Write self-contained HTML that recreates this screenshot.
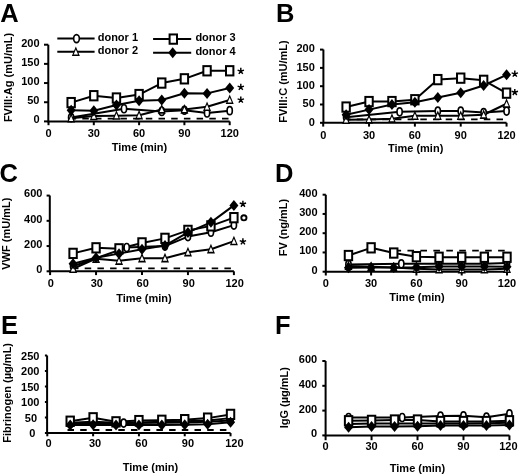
<!DOCTYPE html>
<html><head><meta charset="utf-8"><style>
html,body{margin:0;padding:0;background:#fff;}
body{width:520px;height:476px;overflow:hidden;}
svg{display:block;filter:grayscale(1);}
text{font-family:"Liberation Sans", sans-serif;fill:#000;}
</style></head><body>
<svg width="520" height="476" viewBox="0 0 520 476">
<rect width="520" height="476" fill="#fff"/>
<text x="0.3" y="21.5" font-size="25.5" font-weight="bold">A</text>
<path d="M48.30,44.70 V121.40 H229.70" fill="none" stroke="#000" stroke-width="2.0"/>
<path d="M44.00,121.40 H48.3" stroke="#000" stroke-width="2.0"/>
<text x="39.50" y="123.40" font-size="11" font-weight="bold" text-anchor="end">0</text>
<path d="M44.00,102.23 H48.3" stroke="#000" stroke-width="2.0"/>
<text x="39.50" y="104.23" font-size="11" font-weight="bold" text-anchor="end">50</text>
<path d="M44.00,83.05 H48.3" stroke="#000" stroke-width="2.0"/>
<text x="39.50" y="85.05" font-size="11" font-weight="bold" text-anchor="end">100</text>
<path d="M44.00,63.88 H48.3" stroke="#000" stroke-width="2.0"/>
<text x="39.50" y="65.88" font-size="11" font-weight="bold" text-anchor="end">150</text>
<path d="M44.00,44.70 H48.3" stroke="#000" stroke-width="2.0"/>
<text x="39.50" y="46.70" font-size="11" font-weight="bold" text-anchor="end">200</text>
<path d="M48.50,121.40 V125.20" stroke="#000" stroke-width="2.0"/>
<text x="48.50" y="137.20" font-size="11" font-weight="bold" text-anchor="middle">0</text>
<path d="M93.80,121.40 V125.20" stroke="#000" stroke-width="2.0"/>
<text x="93.80" y="137.20" font-size="11" font-weight="bold" text-anchor="middle">30</text>
<path d="M139.10,121.40 V125.20" stroke="#000" stroke-width="2.0"/>
<text x="139.10" y="137.20" font-size="11" font-weight="bold" text-anchor="middle">60</text>
<path d="M184.40,121.40 V125.20" stroke="#000" stroke-width="2.0"/>
<text x="184.40" y="137.20" font-size="11" font-weight="bold" text-anchor="middle">90</text>
<path d="M229.70,121.40 V125.20" stroke="#000" stroke-width="2.0"/>
<text x="229.70" y="137.20" font-size="11" font-weight="bold" text-anchor="middle">120</text>
<text x="139.5" y="150.8" font-size="11" font-weight="bold" text-anchor="middle">Time (min)</text>
<text transform="translate(12.3,77.5) rotate(-90)" font-size="11" font-weight="bold" text-anchor="middle">FVIII:Ag (mU/mL)</text>
<path d="M69.6,118.7 H228.5" stroke="#000" stroke-width="1.8" stroke-dasharray="6.5 6.2"/>
<polyline points="71.15,117.57 124.00,108.74 161.75,111.43 184.40,110.28 207.05,112.96 229.70,110.66" fill="none" stroke="#000" stroke-width="2.0" stroke-linejoin="round"/>
<polyline points="71.15,118.33 93.80,116.03 116.45,115.65 139.10,115.26 161.75,109.51 184.40,109.51 207.05,106.83 229.70,99.92" fill="none" stroke="#000" stroke-width="2.0" stroke-linejoin="round"/>
<polyline points="71.15,102.61 93.80,95.71 116.45,98.01 139.10,94.56 161.75,83.05 184.40,78.83 207.05,70.78 229.70,70.78" fill="none" stroke="#000" stroke-width="2.0" stroke-linejoin="round"/>
<polyline points="71.15,110.28 93.80,110.66 116.45,104.91 139.10,100.69 161.75,99.92 184.40,93.21 207.05,93.40 229.70,88.04" fill="none" stroke="#000" stroke-width="2.0" stroke-linejoin="round"/>
<ellipse cx="71.15" cy="117.57" rx="2.6" ry="4.0" fill="#fff" stroke="#000" stroke-width="1.65"/>
<ellipse cx="124.00" cy="108.74" rx="2.6" ry="4.0" fill="#fff" stroke="#000" stroke-width="1.65"/>
<ellipse cx="161.75" cy="111.43" rx="2.6" ry="4.0" fill="#fff" stroke="#000" stroke-width="1.65"/>
<ellipse cx="184.40" cy="110.28" rx="2.6" ry="4.0" fill="#fff" stroke="#000" stroke-width="1.65"/>
<ellipse cx="207.05" cy="112.96" rx="2.6" ry="4.0" fill="#fff" stroke="#000" stroke-width="1.65"/>
<ellipse cx="229.70" cy="110.66" rx="2.6" ry="4.0" fill="#fff" stroke="#000" stroke-width="1.65"/>
<polygon points="71.15,112.93 75.15,122.53 67.15,122.53" fill="#000"/><polygon points="71.15,116.03 73.35,120.93 68.95,120.93" fill="#fff"/>
<polygon points="93.80,110.63 97.80,120.23 89.80,120.23" fill="#000"/><polygon points="93.80,113.73 96.00,118.63 91.60,118.63" fill="#fff"/>
<polygon points="116.45,110.25 120.45,119.85 112.45,119.85" fill="#000"/><polygon points="116.45,113.35 118.65,118.25 114.25,118.25" fill="#fff"/>
<polygon points="139.10,109.86 143.10,119.46 135.10,119.46" fill="#000"/><polygon points="139.10,112.96 141.30,117.86 136.90,117.86" fill="#fff"/>
<polygon points="161.75,104.11 165.75,113.71 157.75,113.71" fill="#000"/><polygon points="161.75,107.21 163.95,112.11 159.55,112.11" fill="#fff"/>
<polygon points="184.40,104.11 188.40,113.71 180.40,113.71" fill="#000"/><polygon points="184.40,107.21 186.60,112.11 182.20,112.11" fill="#fff"/>
<polygon points="207.05,101.43 211.05,111.03 203.05,111.03" fill="#000"/><polygon points="207.05,104.53 209.25,109.43 204.85,109.43" fill="#fff"/>
<polygon points="229.70,94.52 233.70,104.12 225.70,104.12" fill="#000"/><polygon points="229.70,97.62 231.90,102.52 227.50,102.52" fill="#fff"/>
<rect x="67.45" y="97.96" width="7.4" height="9.3" fill="#fff" stroke="#000" stroke-width="2"/>
<rect x="90.10" y="91.06" width="7.4" height="9.3" fill="#fff" stroke="#000" stroke-width="2"/>
<rect x="112.75" y="93.36" width="7.4" height="9.3" fill="#fff" stroke="#000" stroke-width="2"/>
<rect x="135.40" y="89.91" width="7.4" height="9.3" fill="#fff" stroke="#000" stroke-width="2"/>
<rect x="158.05" y="78.40" width="7.4" height="9.3" fill="#fff" stroke="#000" stroke-width="2"/>
<rect x="180.70" y="74.18" width="7.4" height="9.3" fill="#fff" stroke="#000" stroke-width="2"/>
<rect x="203.35" y="66.13" width="7.4" height="9.3" fill="#fff" stroke="#000" stroke-width="2"/>
<rect x="226.00" y="66.13" width="7.4" height="9.3" fill="#fff" stroke="#000" stroke-width="2"/>
<polygon points="71.15,104.78 75.65,110.28 71.15,115.78 66.65,110.28" fill="#000"/>
<polygon points="93.80,105.16 98.30,110.66 93.80,116.16 89.30,110.66" fill="#000"/>
<polygon points="116.45,99.41 120.95,104.91 116.45,110.41 111.95,104.91" fill="#000"/>
<polygon points="139.10,95.19 143.60,100.69 139.10,106.19 134.60,100.69" fill="#000"/>
<polygon points="161.75,94.42 166.25,99.92 161.75,105.42 157.25,99.92" fill="#000"/>
<polygon points="184.40,87.71 188.90,93.21 184.40,98.71 179.90,93.21" fill="#000"/>
<polygon points="207.05,87.90 211.55,93.40 207.05,98.90 202.55,93.40" fill="#000"/>
<polygon points="229.70,82.54 234.20,88.04 229.70,93.54 225.20,88.04" fill="#000"/>
<path d="M240.80,71.20 L240.80,67.85 M240.80,71.20 L243.99,70.16 M240.80,71.20 L242.77,73.91 M240.80,71.20 L238.83,73.91 M240.80,71.20 L237.61,70.16 " stroke="#000" stroke-width="1.45"/>
<path d="M240.80,87.20 L240.80,83.85 M240.80,87.20 L243.99,86.16 M240.80,87.20 L242.77,89.91 M240.80,87.20 L238.83,89.91 M240.80,87.20 L237.61,86.16 " stroke="#000" stroke-width="1.45"/>
<path d="M240.80,99.90 L240.80,96.55 M240.80,99.90 L243.99,98.86 M240.80,99.90 L242.77,102.61 M240.80,99.90 L238.83,102.61 M240.80,99.90 L237.61,98.86 " stroke="#000" stroke-width="1.45"/>
<text x="276" y="21.5" font-size="25.5" font-weight="bold">B</text>
<path d="M323.40,49.60 V122.80 H506.56" fill="none" stroke="#000" stroke-width="2.0"/>
<path d="M320.00,122.80 H323.4" stroke="#000" stroke-width="2.0"/>
<text x="314.80" y="125.60" font-size="11" font-weight="bold" text-anchor="end">0</text>
<path d="M320.00,104.50 H323.4" stroke="#000" stroke-width="2.0"/>
<text x="314.80" y="107.30" font-size="11" font-weight="bold" text-anchor="end">50</text>
<path d="M320.00,86.20 H323.4" stroke="#000" stroke-width="2.0"/>
<text x="314.80" y="89.00" font-size="11" font-weight="bold" text-anchor="end">100</text>
<path d="M320.00,67.90 H323.4" stroke="#000" stroke-width="2.0"/>
<text x="314.80" y="70.70" font-size="11" font-weight="bold" text-anchor="end">150</text>
<path d="M320.00,49.60 H323.4" stroke="#000" stroke-width="2.0"/>
<text x="314.80" y="52.40" font-size="11" font-weight="bold" text-anchor="end">200</text>
<path d="M323.20,122.80 V126.60" stroke="#000" stroke-width="2.0"/>
<text x="323.20" y="139.10" font-size="11" font-weight="bold" text-anchor="middle">0</text>
<path d="M369.04,122.80 V126.60" stroke="#000" stroke-width="2.0"/>
<text x="369.04" y="139.10" font-size="11" font-weight="bold" text-anchor="middle">30</text>
<path d="M414.88,122.80 V126.60" stroke="#000" stroke-width="2.0"/>
<text x="414.88" y="139.10" font-size="11" font-weight="bold" text-anchor="middle">60</text>
<path d="M460.72,122.80 V126.60" stroke="#000" stroke-width="2.0"/>
<text x="460.72" y="139.10" font-size="11" font-weight="bold" text-anchor="middle">90</text>
<path d="M506.56,122.80 V126.60" stroke="#000" stroke-width="2.0"/>
<text x="506.56" y="139.10" font-size="11" font-weight="bold" text-anchor="middle">120</text>
<text x="415.6" y="151.5" font-size="11" font-weight="bold" text-anchor="middle">Time (min)</text>
<text transform="translate(287.3,81.5) rotate(-90)" font-size="11" font-weight="bold" text-anchor="middle">FVIII:C (mU/mL)</text>
<path d="M344.1,119.4 H503" stroke="#000" stroke-width="1.8" stroke-dasharray="6.5 6.2"/>
<polyline points="346.12,117.31 399.60,111.82 437.80,111.09 460.72,111.09 483.64,112.55 506.56,111.09" fill="none" stroke="#000" stroke-width="2.0" stroke-linejoin="round"/>
<polyline points="346.12,119.87 369.04,119.51 391.96,118.77 414.88,115.85 437.80,115.85 460.72,115.85 483.64,114.75 506.56,103.77" fill="none" stroke="#000" stroke-width="2.0" stroke-linejoin="round"/>
<polyline points="346.12,107.06 369.04,101.57 391.96,101.57 414.88,99.74 437.80,79.61 460.72,78.15 483.64,80.34 506.56,93.15" fill="none" stroke="#000" stroke-width="2.0" stroke-linejoin="round"/>
<polyline points="346.12,114.75 369.04,109.62 391.96,104.50 414.88,102.30 437.80,97.55 460.72,92.79 483.64,85.47 506.56,74.85" fill="none" stroke="#000" stroke-width="2.0" stroke-linejoin="round"/>
<ellipse cx="346.12" cy="117.31" rx="2.6" ry="4.0" fill="#fff" stroke="#000" stroke-width="1.65"/>
<ellipse cx="399.60" cy="111.82" rx="2.6" ry="4.0" fill="#fff" stroke="#000" stroke-width="1.65"/>
<ellipse cx="437.80" cy="111.09" rx="2.6" ry="4.0" fill="#fff" stroke="#000" stroke-width="1.65"/>
<ellipse cx="460.72" cy="111.09" rx="2.6" ry="4.0" fill="#fff" stroke="#000" stroke-width="1.65"/>
<ellipse cx="483.64" cy="112.55" rx="2.6" ry="4.0" fill="#fff" stroke="#000" stroke-width="1.65"/>
<ellipse cx="506.56" cy="111.09" rx="2.6" ry="4.0" fill="#fff" stroke="#000" stroke-width="1.65"/>
<polygon points="346.12,114.47 350.12,124.07 342.12,124.07" fill="#000"/><polygon points="346.12,117.57 348.32,122.47 343.92,122.47" fill="#fff"/>
<polygon points="369.04,114.11 373.04,123.71 365.04,123.71" fill="#000"/><polygon points="369.04,117.21 371.24,122.11 366.84,122.11" fill="#fff"/>
<polygon points="391.96,113.37 395.96,122.97 387.96,122.97" fill="#000"/><polygon points="391.96,116.47 394.16,121.37 389.76,121.37" fill="#fff"/>
<polygon points="414.88,110.45 418.88,120.05 410.88,120.05" fill="#000"/><polygon points="414.88,113.55 417.08,118.45 412.68,118.45" fill="#fff"/>
<polygon points="437.80,110.45 441.80,120.05 433.80,120.05" fill="#000"/><polygon points="437.80,113.55 440.00,118.45 435.60,118.45" fill="#fff"/>
<polygon points="460.72,110.45 464.72,120.05 456.72,120.05" fill="#000"/><polygon points="460.72,113.55 462.92,118.45 458.52,118.45" fill="#fff"/>
<polygon points="483.64,109.35 487.64,118.95 479.64,118.95" fill="#000"/><polygon points="483.64,112.45 485.84,117.35 481.44,117.35" fill="#fff"/>
<polygon points="506.56,98.37 510.56,107.97 502.56,107.97" fill="#000"/><polygon points="506.56,101.47 508.76,106.37 504.36,106.37" fill="#fff"/>
<rect x="342.42" y="102.41" width="7.4" height="9.3" fill="#fff" stroke="#000" stroke-width="2"/>
<rect x="365.34" y="96.92" width="7.4" height="9.3" fill="#fff" stroke="#000" stroke-width="2"/>
<rect x="388.26" y="96.92" width="7.4" height="9.3" fill="#fff" stroke="#000" stroke-width="2"/>
<rect x="411.18" y="95.09" width="7.4" height="9.3" fill="#fff" stroke="#000" stroke-width="2"/>
<rect x="434.10" y="74.96" width="7.4" height="9.3" fill="#fff" stroke="#000" stroke-width="2"/>
<rect x="457.02" y="73.50" width="7.4" height="9.3" fill="#fff" stroke="#000" stroke-width="2"/>
<rect x="479.94" y="75.69" width="7.4" height="9.3" fill="#fff" stroke="#000" stroke-width="2"/>
<rect x="502.86" y="88.50" width="7.4" height="9.3" fill="#fff" stroke="#000" stroke-width="2"/>
<polygon points="346.12,109.25 350.62,114.75 346.12,120.25 341.62,114.75" fill="#000"/>
<polygon points="369.04,104.12 373.54,109.62 369.04,115.12 364.54,109.62" fill="#000"/>
<polygon points="391.96,99.00 396.46,104.50 391.96,110.00 387.46,104.50" fill="#000"/>
<polygon points="414.88,96.80 419.38,102.30 414.88,107.80 410.38,102.30" fill="#000"/>
<polygon points="437.80,92.05 442.30,97.55 437.80,103.05 433.30,97.55" fill="#000"/>
<polygon points="460.72,87.29 465.22,92.79 460.72,98.29 456.22,92.79" fill="#000"/>
<polygon points="483.64,79.97 488.14,85.47 483.64,90.97 479.14,85.47" fill="#000"/>
<polygon points="506.56,69.35 511.06,74.85 506.56,80.35 502.06,74.85" fill="#000"/>
<path d="M514.80,73.90 L514.80,70.55 M514.80,73.90 L517.99,72.86 M514.80,73.90 L516.77,76.61 M514.80,73.90 L512.83,76.61 M514.80,73.90 L511.61,72.86 " stroke="#000" stroke-width="1.45"/>
<path d="M514.80,92.30 L514.80,88.95 M514.80,92.30 L517.99,91.26 M514.80,92.30 L516.77,95.01 M514.80,92.30 L512.83,95.01 M514.80,92.30 L511.61,91.26 " stroke="#000" stroke-width="1.45"/>
<text x="-0.6" y="181.7" font-size="25.5" font-weight="bold">C</text>
<path d="M49.80,195.58 V271.30 H233.90" fill="none" stroke="#000" stroke-width="2.0"/>
<path d="M46.60,271.30 H49.8" stroke="#000" stroke-width="2.0"/>
<text x="42.40" y="273.00" font-size="11" font-weight="bold" text-anchor="end">0</text>
<path d="M46.60,246.06 H49.8" stroke="#000" stroke-width="2.0"/>
<text x="42.40" y="247.76" font-size="11" font-weight="bold" text-anchor="end">200</text>
<path d="M46.60,220.82 H49.8" stroke="#000" stroke-width="2.0"/>
<text x="42.40" y="222.52" font-size="11" font-weight="bold" text-anchor="end">400</text>
<path d="M46.60,195.58 H49.8" stroke="#000" stroke-width="2.0"/>
<text x="42.40" y="197.28" font-size="11" font-weight="bold" text-anchor="end">600</text>
<path d="M50.10,271.30 V275.10" stroke="#000" stroke-width="2.0"/>
<text x="50.80" y="286.80" font-size="11" font-weight="bold" text-anchor="middle">0</text>
<path d="M96.05,271.30 V275.10" stroke="#000" stroke-width="2.0"/>
<text x="96.75" y="286.80" font-size="11" font-weight="bold" text-anchor="middle">30</text>
<path d="M142.00,271.30 V275.10" stroke="#000" stroke-width="2.0"/>
<text x="142.70" y="286.80" font-size="11" font-weight="bold" text-anchor="middle">60</text>
<path d="M187.95,271.30 V275.10" stroke="#000" stroke-width="2.0"/>
<text x="188.65" y="286.80" font-size="11" font-weight="bold" text-anchor="middle">90</text>
<path d="M233.90,271.30 V275.10" stroke="#000" stroke-width="2.0"/>
<text x="234.60" y="286.80" font-size="11" font-weight="bold" text-anchor="middle">120</text>
<text x="144" y="302.3" font-size="11" font-weight="bold" text-anchor="middle">Time (min)</text>
<text transform="translate(10.3,233.6) rotate(-90)" font-size="11" font-weight="bold" text-anchor="middle">VWF (mU/mL)</text>
<path d="M72,268.3 H231.5" stroke="#000" stroke-width="1.8" stroke-dasharray="6.5 6.2"/>
<polyline points="73.08,266.25 126.69,247.45 164.98,246.06 187.95,236.60 210.93,232.18 233.90,225.11" fill="none" stroke="#000" stroke-width="2.0" stroke-linejoin="round"/>
<polyline points="73.08,268.78 96.05,258.68 119.03,260.70 142.00,258.18 164.98,258.18 187.95,252.24 210.93,249.22 233.90,241.14" fill="none" stroke="#000" stroke-width="2.0" stroke-linejoin="round"/>
<polyline points="73.08,253.38 96.05,247.83 119.03,248.84 142.00,242.91 164.98,238.36 187.95,230.41 210.93,225.87 233.90,217.67" fill="none" stroke="#000" stroke-width="2.0" stroke-linejoin="round"/>
<polyline points="73.08,263.73 96.05,257.80 119.03,253.63 142.00,249.22 164.98,245.56 187.95,232.43 210.93,222.33 233.90,205.42" fill="none" stroke="#000" stroke-width="2.0" stroke-linejoin="round"/>
<ellipse cx="73.08" cy="266.25" rx="2.6" ry="4.0" fill="#fff" stroke="#000" stroke-width="1.65"/>
<ellipse cx="126.69" cy="247.45" rx="2.6" ry="4.0" fill="#fff" stroke="#000" stroke-width="1.65"/>
<ellipse cx="164.98" cy="246.06" rx="2.6" ry="4.0" fill="#fff" stroke="#000" stroke-width="1.65"/>
<ellipse cx="187.95" cy="236.60" rx="2.6" ry="4.0" fill="#fff" stroke="#000" stroke-width="1.65"/>
<ellipse cx="210.93" cy="232.18" rx="2.6" ry="4.0" fill="#fff" stroke="#000" stroke-width="1.65"/>
<ellipse cx="233.90" cy="225.11" rx="2.6" ry="4.0" fill="#fff" stroke="#000" stroke-width="1.65"/>
<polygon points="73.08,263.38 77.08,272.98 69.08,272.98" fill="#000"/><polygon points="73.08,266.48 75.28,271.38 70.88,271.38" fill="#fff"/>
<polygon points="96.05,253.28 100.05,262.88 92.05,262.88" fill="#000"/><polygon points="96.05,256.38 98.25,261.28 93.85,261.28" fill="#fff"/>
<polygon points="119.03,255.30 123.03,264.90 115.03,264.90" fill="#000"/><polygon points="119.03,258.40 121.23,263.30 116.83,263.30" fill="#fff"/>
<polygon points="142.00,252.78 146.00,262.38 138.00,262.38" fill="#000"/><polygon points="142.00,255.88 144.20,260.78 139.80,260.78" fill="#fff"/>
<polygon points="164.98,252.78 168.98,262.38 160.98,262.38" fill="#000"/><polygon points="164.98,255.88 167.18,260.78 162.78,260.78" fill="#fff"/>
<polygon points="187.95,246.84 191.95,256.44 183.95,256.44" fill="#000"/><polygon points="187.95,249.94 190.15,254.84 185.75,254.84" fill="#fff"/>
<polygon points="210.93,243.81 214.93,253.41 206.93,253.41" fill="#000"/><polygon points="210.93,246.91 213.13,251.81 208.73,251.81" fill="#fff"/>
<polygon points="233.90,235.74 237.90,245.34 229.90,245.34" fill="#000"/><polygon points="233.90,238.84 236.10,243.74 231.70,243.74" fill="#fff"/>
<rect x="69.38" y="248.73" width="7.4" height="9.3" fill="#fff" stroke="#000" stroke-width="2"/>
<rect x="92.35" y="243.18" width="7.4" height="9.3" fill="#fff" stroke="#000" stroke-width="2"/>
<rect x="115.33" y="244.19" width="7.4" height="9.3" fill="#fff" stroke="#000" stroke-width="2"/>
<rect x="138.30" y="238.25" width="7.4" height="9.3" fill="#fff" stroke="#000" stroke-width="2"/>
<rect x="161.28" y="233.71" width="7.4" height="9.3" fill="#fff" stroke="#000" stroke-width="2"/>
<rect x="184.25" y="225.76" width="7.4" height="9.3" fill="#fff" stroke="#000" stroke-width="2"/>
<rect x="207.23" y="221.22" width="7.4" height="9.3" fill="#fff" stroke="#000" stroke-width="2"/>
<rect x="230.20" y="213.02" width="7.4" height="9.3" fill="#fff" stroke="#000" stroke-width="2"/>
<polygon points="73.08,258.23 77.58,263.73 73.08,269.23 68.58,263.73" fill="#000"/>
<polygon points="96.05,252.30 100.55,257.80 96.05,263.30 91.55,257.80" fill="#000"/>
<polygon points="119.03,248.13 123.53,253.63 119.03,259.13 114.53,253.63" fill="#000"/>
<polygon points="142.00,243.72 146.50,249.22 142.00,254.72 137.50,249.22" fill="#000"/>
<polygon points="164.98,240.06 169.48,245.56 164.98,251.06 160.48,245.56" fill="#000"/>
<polygon points="187.95,226.93 192.45,232.43 187.95,237.93 183.45,232.43" fill="#000"/>
<polygon points="210.93,216.83 215.43,222.33 210.93,227.83 206.43,222.33" fill="#000"/>
<polygon points="233.90,199.92 238.40,205.42 233.90,210.92 229.40,205.42" fill="#000"/>
<path d="M242.90,204.00 L242.90,200.65 M242.90,204.00 L246.09,202.96 M242.90,204.00 L244.87,206.71 M242.90,204.00 L240.93,206.71 M242.90,204.00 L239.71,202.96 " stroke="#000" stroke-width="1.45"/>
<ellipse cx="243.90" cy="217.80" rx="2.6" ry="2.6" fill="none" stroke="#000" stroke-width="1.9"/>
<path d="M242.90,241.70 L242.90,238.35 M242.90,241.70 L246.09,240.66 M242.90,241.70 L244.87,244.41 M242.90,241.70 L240.93,244.41 M242.90,241.70 L239.71,240.66 " stroke="#000" stroke-width="1.45"/>
<text x="275" y="181.8" font-size="25.5" font-weight="bold">D</text>
<path d="M325.80,194.70 V271.70 H507.00" fill="none" stroke="#000" stroke-width="2.0"/>
<path d="M322.60,271.70 H325.8" stroke="#000" stroke-width="2.0"/>
<text x="317.50" y="273.60" font-size="11" font-weight="bold" text-anchor="end">0</text>
<path d="M322.60,252.45 H325.8" stroke="#000" stroke-width="2.0"/>
<text x="317.50" y="254.35" font-size="11" font-weight="bold" text-anchor="end">100</text>
<path d="M322.60,233.20 H325.8" stroke="#000" stroke-width="2.0"/>
<text x="317.50" y="235.10" font-size="11" font-weight="bold" text-anchor="end">200</text>
<path d="M322.60,213.95 H325.8" stroke="#000" stroke-width="2.0"/>
<text x="317.50" y="215.85" font-size="11" font-weight="bold" text-anchor="end">300</text>
<path d="M322.60,194.70 H325.8" stroke="#000" stroke-width="2.0"/>
<text x="317.50" y="196.60" font-size="11" font-weight="bold" text-anchor="end">400</text>
<path d="M325.80,271.70 V275.50" stroke="#000" stroke-width="2.0"/>
<text x="325.80" y="287.30" font-size="11" font-weight="bold" text-anchor="middle">0</text>
<path d="M371.10,271.70 V275.50" stroke="#000" stroke-width="2.0"/>
<text x="371.10" y="287.30" font-size="11" font-weight="bold" text-anchor="middle">30</text>
<path d="M416.40,271.70 V275.50" stroke="#000" stroke-width="2.0"/>
<text x="416.40" y="287.30" font-size="11" font-weight="bold" text-anchor="middle">60</text>
<path d="M461.70,271.70 V275.50" stroke="#000" stroke-width="2.0"/>
<text x="461.70" y="287.30" font-size="11" font-weight="bold" text-anchor="middle">90</text>
<path d="M507.00,271.70 V275.50" stroke="#000" stroke-width="2.0"/>
<text x="507.00" y="287.30" font-size="11" font-weight="bold" text-anchor="middle">120</text>
<text x="417" y="301.2" font-size="11" font-weight="bold" text-anchor="middle">Time (min)</text>
<text transform="translate(287.2,227.6) rotate(-90)" font-size="11" font-weight="bold" text-anchor="middle">FV (ng/mL)</text>
<path d="M394.5,250.7 H505.5" stroke="#000" stroke-width="1.8" stroke-dasharray="6.6 6.35"/>
<polyline points="348.45,264.38 401.30,263.81 439.05,263.81 461.70,263.81 484.35,263.81 507.00,263.04" fill="none" stroke="#000" stroke-width="2.0" stroke-linejoin="round"/>
<polyline points="348.45,265.93 371.10,266.69 393.75,267.46 416.40,268.81 439.05,269.39 461.70,269.39 484.35,269.39 507.00,268.81" fill="none" stroke="#000" stroke-width="2.0" stroke-linejoin="round"/>
<polyline points="348.45,255.53 371.10,247.83 393.75,253.03 416.40,256.69 439.05,257.26 461.70,257.26 484.35,257.26 507.00,257.26" fill="none" stroke="#000" stroke-width="2.0" stroke-linejoin="round"/>
<polyline points="348.45,267.85 371.10,267.46 393.75,267.46 416.40,267.27 439.05,266.50 461.70,266.50 484.35,266.50 507.00,266.69" fill="none" stroke="#000" stroke-width="2.0" stroke-linejoin="round"/>
<ellipse cx="348.45" cy="264.38" rx="2.6" ry="4.0" fill="#fff" stroke="#000" stroke-width="1.65"/>
<ellipse cx="401.30" cy="263.81" rx="2.6" ry="4.0" fill="#fff" stroke="#000" stroke-width="1.65"/>
<ellipse cx="439.05" cy="263.81" rx="2.6" ry="4.0" fill="#fff" stroke="#000" stroke-width="1.65"/>
<ellipse cx="461.70" cy="263.81" rx="2.6" ry="4.0" fill="#fff" stroke="#000" stroke-width="1.65"/>
<ellipse cx="484.35" cy="263.81" rx="2.6" ry="4.0" fill="#fff" stroke="#000" stroke-width="1.65"/>
<ellipse cx="507.00" cy="263.04" rx="2.6" ry="4.0" fill="#fff" stroke="#000" stroke-width="1.65"/>
<polygon points="348.45,260.53 352.45,270.12 344.45,270.12" fill="#000"/><polygon points="348.45,263.62 350.65,268.53 346.25,268.53" fill="#fff"/>
<polygon points="371.10,261.30 375.10,270.89 367.10,270.89" fill="#000"/><polygon points="371.10,264.39 373.30,269.30 368.90,269.30" fill="#fff"/>
<polygon points="393.75,262.06 397.75,271.66 389.75,271.66" fill="#000"/><polygon points="393.75,265.16 395.95,270.06 391.55,270.06" fill="#fff"/>
<polygon points="416.40,263.41 420.40,273.01 412.40,273.01" fill="#000"/><polygon points="416.40,266.51 418.60,271.41 414.20,271.41" fill="#fff"/>
<polygon points="439.05,263.99 443.05,273.59 435.05,273.59" fill="#000"/><polygon points="439.05,267.09 441.25,271.99 436.85,271.99" fill="#fff"/>
<polygon points="461.70,263.99 465.70,273.59 457.70,273.59" fill="#000"/><polygon points="461.70,267.09 463.90,271.99 459.50,271.99" fill="#fff"/>
<polygon points="484.35,263.99 488.35,273.59 480.35,273.59" fill="#000"/><polygon points="484.35,267.09 486.55,271.99 482.15,271.99" fill="#fff"/>
<polygon points="507.00,263.41 511.00,273.01 503.00,273.01" fill="#000"/><polygon points="507.00,266.51 509.20,271.41 504.80,271.41" fill="#fff"/>
<rect x="344.75" y="250.88" width="7.4" height="9.3" fill="#fff" stroke="#000" stroke-width="2"/>
<rect x="367.40" y="243.18" width="7.4" height="9.3" fill="#fff" stroke="#000" stroke-width="2"/>
<rect x="390.05" y="248.38" width="7.4" height="9.3" fill="#fff" stroke="#000" stroke-width="2"/>
<rect x="412.70" y="252.03" width="7.4" height="9.3" fill="#fff" stroke="#000" stroke-width="2"/>
<rect x="435.35" y="252.61" width="7.4" height="9.3" fill="#fff" stroke="#000" stroke-width="2"/>
<rect x="458.00" y="252.61" width="7.4" height="9.3" fill="#fff" stroke="#000" stroke-width="2"/>
<rect x="480.65" y="252.61" width="7.4" height="9.3" fill="#fff" stroke="#000" stroke-width="2"/>
<rect x="503.30" y="252.61" width="7.4" height="9.3" fill="#fff" stroke="#000" stroke-width="2"/>
<polygon points="348.45,262.35 352.95,267.85 348.45,273.35 343.95,267.85" fill="#000"/>
<polygon points="371.10,261.96 375.60,267.46 371.10,272.96 366.60,267.46" fill="#000"/>
<polygon points="393.75,261.96 398.25,267.46 393.75,272.96 389.25,267.46" fill="#000"/>
<polygon points="416.40,261.77 420.90,267.27 416.40,272.77 411.90,267.27" fill="#000"/>
<polygon points="439.05,261.00 443.55,266.50 439.05,272.00 434.55,266.50" fill="#000"/>
<polygon points="461.70,261.00 466.20,266.50 461.70,272.00 457.20,266.50" fill="#000"/>
<polygon points="484.35,261.00 488.85,266.50 484.35,272.00 479.85,266.50" fill="#000"/>
<polygon points="507.00,261.19 511.50,266.69 507.00,272.19 502.50,266.69" fill="#000"/>
<text x="1" y="334" font-size="25.5" font-weight="bold">E</text>
<path d="M47.10,355.50 V433.00 H230.54" fill="none" stroke="#000" stroke-width="2.0"/>
<path d="M44.90,433.00 H47.1" stroke="#000" stroke-width="2.0"/>
<text x="35.40" y="437.00" font-size="11" font-weight="bold" text-anchor="end">0</text>
<path d="M44.90,417.50 H47.1" stroke="#000" stroke-width="2.0"/>
<text x="37.10" y="421.50" font-size="11" font-weight="bold" text-anchor="end">50</text>
<path d="M44.90,402.00 H47.1" stroke="#000" stroke-width="2.0"/>
<text x="39.40" y="406.00" font-size="11" font-weight="bold" text-anchor="end">100</text>
<path d="M44.90,386.50 H47.1" stroke="#000" stroke-width="2.0"/>
<text x="39.40" y="390.50" font-size="11" font-weight="bold" text-anchor="end">150</text>
<path d="M44.90,371.00 H47.1" stroke="#000" stroke-width="2.0"/>
<text x="39.40" y="375.00" font-size="11" font-weight="bold" text-anchor="end">200</text>
<path d="M44.90,355.50 H47.1" stroke="#000" stroke-width="2.0"/>
<text x="39.40" y="359.50" font-size="11" font-weight="bold" text-anchor="end">250</text>
<path d="M47.30,433.00 V436.30" stroke="#000" stroke-width="2.0"/>
<text x="48.60" y="446.50" font-size="11" font-weight="bold" text-anchor="middle">0</text>
<path d="M93.11,433.00 V436.30" stroke="#000" stroke-width="2.0"/>
<text x="95.04" y="446.50" font-size="11" font-weight="bold" text-anchor="middle">30</text>
<path d="M138.92,433.00 V436.30" stroke="#000" stroke-width="2.0"/>
<text x="141.48" y="446.50" font-size="11" font-weight="bold" text-anchor="middle">60</text>
<path d="M184.73,433.00 V436.30" stroke="#000" stroke-width="2.0"/>
<text x="187.92" y="446.50" font-size="11" font-weight="bold" text-anchor="middle">90</text>
<path d="M230.54,433.00 V436.30" stroke="#000" stroke-width="2.0"/>
<text x="234.36" y="446.50" font-size="11" font-weight="bold" text-anchor="middle">120</text>
<text x="150.5" y="471.2" font-size="11" font-weight="bold" text-anchor="middle">Time (min)</text>
<text transform="translate(10.5,392.9) rotate(-90)" font-size="11" font-weight="bold" text-anchor="middle">Fibrinogen (µg/mL)</text>
<path d="M67.5,430 H229" stroke="#000" stroke-width="1.8" stroke-dasharray="6.5 6.2"/>
<polyline points="70.20,423.70 123.65,423.08 161.82,422.77 184.73,422.46 207.63,421.84 230.54,420.60" fill="none" stroke="#000" stroke-width="2.0" stroke-linejoin="round"/>
<polyline points="70.20,422.77 93.11,421.84 116.01,422.77 138.92,422.46 161.82,421.84 184.73,421.22 207.63,420.60 230.54,418.12" fill="none" stroke="#000" stroke-width="2.0" stroke-linejoin="round"/>
<polyline points="70.20,421.22 93.11,417.81 116.01,421.84 138.92,420.60 161.82,420.29 184.73,419.67 207.63,418.12 230.54,414.40" fill="none" stroke="#000" stroke-width="2.0" stroke-linejoin="round"/>
<polyline points="70.20,424.94 93.11,424.63 116.01,424.94 138.92,424.94 161.82,424.94 184.73,424.63 207.63,424.32 230.54,422.15" fill="none" stroke="#000" stroke-width="2.0" stroke-linejoin="round"/>
<ellipse cx="70.20" cy="423.70" rx="2.6" ry="4.0" fill="#fff" stroke="#000" stroke-width="1.65"/>
<ellipse cx="123.65" cy="423.08" rx="2.6" ry="4.0" fill="#fff" stroke="#000" stroke-width="1.65"/>
<ellipse cx="161.82" cy="422.77" rx="2.6" ry="4.0" fill="#fff" stroke="#000" stroke-width="1.65"/>
<ellipse cx="184.73" cy="422.46" rx="2.6" ry="4.0" fill="#fff" stroke="#000" stroke-width="1.65"/>
<ellipse cx="207.63" cy="421.84" rx="2.6" ry="4.0" fill="#fff" stroke="#000" stroke-width="1.65"/>
<ellipse cx="230.54" cy="420.60" rx="2.6" ry="4.0" fill="#fff" stroke="#000" stroke-width="1.65"/>
<polygon points="70.20,417.37 74.20,426.97 66.20,426.97" fill="#000"/><polygon points="70.20,420.47 72.41,425.37 68.00,425.37" fill="#fff"/>
<polygon points="93.11,416.44 97.11,426.04 89.11,426.04" fill="#000"/><polygon points="93.11,419.54 95.31,424.44 90.91,424.44" fill="#fff"/>
<polygon points="116.01,417.37 120.01,426.97 112.01,426.97" fill="#000"/><polygon points="116.01,420.47 118.21,425.37 113.81,425.37" fill="#fff"/>
<polygon points="138.92,417.06 142.92,426.66 134.92,426.66" fill="#000"/><polygon points="138.92,420.16 141.12,425.06 136.72,425.06" fill="#fff"/>
<polygon points="161.82,416.44 165.82,426.04 157.82,426.04" fill="#000"/><polygon points="161.82,419.54 164.02,424.44 159.62,424.44" fill="#fff"/>
<polygon points="184.73,415.82 188.73,425.42 180.73,425.42" fill="#000"/><polygon points="184.73,418.92 186.93,423.82 182.53,423.82" fill="#fff"/>
<polygon points="207.63,415.20 211.63,424.80 203.63,424.80" fill="#000"/><polygon points="207.63,418.30 209.83,423.20 205.44,423.20" fill="#fff"/>
<polygon points="230.54,412.72 234.54,422.32 226.54,422.32" fill="#000"/><polygon points="230.54,415.82 232.74,420.72 228.34,420.72" fill="#fff"/>
<rect x="66.50" y="416.57" width="7.4" height="9.3" fill="#fff" stroke="#000" stroke-width="2"/>
<rect x="89.41" y="413.16" width="7.4" height="9.3" fill="#fff" stroke="#000" stroke-width="2"/>
<rect x="112.31" y="417.19" width="7.4" height="9.3" fill="#fff" stroke="#000" stroke-width="2"/>
<rect x="135.22" y="415.95" width="7.4" height="9.3" fill="#fff" stroke="#000" stroke-width="2"/>
<rect x="158.12" y="415.64" width="7.4" height="9.3" fill="#fff" stroke="#000" stroke-width="2"/>
<rect x="181.03" y="415.02" width="7.4" height="9.3" fill="#fff" stroke="#000" stroke-width="2"/>
<rect x="203.94" y="413.47" width="7.4" height="9.3" fill="#fff" stroke="#000" stroke-width="2"/>
<rect x="226.84" y="409.75" width="7.4" height="9.3" fill="#fff" stroke="#000" stroke-width="2"/>
<polygon points="70.20,419.44 74.70,424.94 70.20,430.44 65.70,424.94" fill="#000"/>
<polygon points="93.11,419.13 97.61,424.63 93.11,430.13 88.61,424.63" fill="#000"/>
<polygon points="116.01,419.44 120.51,424.94 116.01,430.44 111.51,424.94" fill="#000"/>
<polygon points="138.92,419.44 143.42,424.94 138.92,430.44 134.42,424.94" fill="#000"/>
<polygon points="161.82,419.44 166.32,424.94 161.82,430.44 157.32,424.94" fill="#000"/>
<polygon points="184.73,419.13 189.23,424.63 184.73,430.13 180.23,424.63" fill="#000"/>
<polygon points="207.63,418.82 212.13,424.32 207.63,429.82 203.13,424.32" fill="#000"/>
<polygon points="230.54,416.65 235.04,422.15 230.54,427.65 226.04,422.15" fill="#000"/>
<text x="275" y="334" font-size="25.5" font-weight="bold">F</text>
<path d="M325.60,361.00 V435.40 H509.44" fill="none" stroke="#000" stroke-width="2.0"/>
<path d="M322.30,435.40 H325.6" stroke="#000" stroke-width="2.0"/>
<text x="317.20" y="437.30" font-size="11" font-weight="bold" text-anchor="end">0</text>
<path d="M322.30,410.60 H325.6" stroke="#000" stroke-width="2.0"/>
<text x="317.20" y="412.50" font-size="11" font-weight="bold" text-anchor="end">200</text>
<path d="M322.30,385.80 H325.6" stroke="#000" stroke-width="2.0"/>
<text x="317.20" y="387.70" font-size="11" font-weight="bold" text-anchor="end">400</text>
<path d="M322.30,361.00 H325.6" stroke="#000" stroke-width="2.0"/>
<text x="317.20" y="362.90" font-size="11" font-weight="bold" text-anchor="end">600</text>
<path d="M325.60,435.40 V440.20" stroke="#000" stroke-width="2.0"/>
<text x="325.60" y="449.90" font-size="11" font-weight="bold" text-anchor="middle">0</text>
<path d="M371.56,435.40 V440.20" stroke="#000" stroke-width="2.0"/>
<text x="371.56" y="449.90" font-size="11" font-weight="bold" text-anchor="middle">30</text>
<path d="M417.52,435.40 V440.20" stroke="#000" stroke-width="2.0"/>
<text x="417.52" y="449.90" font-size="11" font-weight="bold" text-anchor="middle">60</text>
<path d="M463.48,435.40 V440.20" stroke="#000" stroke-width="2.0"/>
<text x="463.48" y="449.90" font-size="11" font-weight="bold" text-anchor="middle">90</text>
<path d="M509.44,435.40 V440.20" stroke="#000" stroke-width="2.0"/>
<text x="508.44" y="449.90" font-size="11" font-weight="bold" text-anchor="middle">120</text>
<text x="417.5" y="472.0" font-size="11" font-weight="bold" text-anchor="middle">Time (min)</text>
<text transform="translate(288.2,397.7) rotate(-90)" font-size="11" font-weight="bold" text-anchor="middle">IgG (µg/mL)</text>
<polyline points="348.58,417.54 402.20,417.54 440.50,416.06 463.48,415.81 486.46,417.17 509.44,413.82" fill="none" stroke="#000" stroke-width="2.0" stroke-linejoin="round"/>
<polyline points="348.58,423.99 371.56,423.62 394.54,423.62 417.52,423.62 440.50,423.62 463.48,423.62 486.46,423.25 509.44,422.75" fill="none" stroke="#000" stroke-width="2.0" stroke-linejoin="round"/>
<polyline points="348.58,420.77 371.56,420.40 394.54,420.02 417.52,420.02 440.50,421.51 463.48,421.51 486.46,421.51 509.44,420.77" fill="none" stroke="#000" stroke-width="2.0" stroke-linejoin="round"/>
<polyline points="348.58,427.22 371.56,426.47 394.54,426.47 417.52,426.22 440.50,425.60 463.48,425.60 486.46,425.48 509.44,424.98" fill="none" stroke="#000" stroke-width="2.0" stroke-linejoin="round"/>
<ellipse cx="348.58" cy="417.54" rx="2.6" ry="4.0" fill="#fff" stroke="#000" stroke-width="1.65"/>
<ellipse cx="402.20" cy="417.54" rx="2.6" ry="4.0" fill="#fff" stroke="#000" stroke-width="1.65"/>
<ellipse cx="440.50" cy="416.06" rx="2.6" ry="4.0" fill="#fff" stroke="#000" stroke-width="1.65"/>
<ellipse cx="463.48" cy="415.81" rx="2.6" ry="4.0" fill="#fff" stroke="#000" stroke-width="1.65"/>
<ellipse cx="486.46" cy="417.17" rx="2.6" ry="4.0" fill="#fff" stroke="#000" stroke-width="1.65"/>
<ellipse cx="509.44" cy="413.82" rx="2.6" ry="4.0" fill="#fff" stroke="#000" stroke-width="1.65"/>
<polygon points="348.58,418.59 352.58,428.19 344.58,428.19" fill="#000"/><polygon points="348.58,421.69 350.78,426.59 346.38,426.59" fill="#fff"/>
<polygon points="371.56,418.22 375.56,427.82 367.56,427.82" fill="#000"/><polygon points="371.56,421.32 373.76,426.22 369.36,426.22" fill="#fff"/>
<polygon points="394.54,418.22 398.54,427.82 390.54,427.82" fill="#000"/><polygon points="394.54,421.32 396.74,426.22 392.34,426.22" fill="#fff"/>
<polygon points="417.52,418.22 421.52,427.82 413.52,427.82" fill="#000"/><polygon points="417.52,421.32 419.72,426.22 415.32,426.22" fill="#fff"/>
<polygon points="440.50,418.22 444.50,427.82 436.50,427.82" fill="#000"/><polygon points="440.50,421.32 442.70,426.22 438.30,426.22" fill="#fff"/>
<polygon points="463.48,418.22 467.48,427.82 459.48,427.82" fill="#000"/><polygon points="463.48,421.32 465.68,426.22 461.28,426.22" fill="#fff"/>
<polygon points="486.46,417.85 490.46,427.45 482.46,427.45" fill="#000"/><polygon points="486.46,420.95 488.66,425.85 484.26,425.85" fill="#fff"/>
<polygon points="509.44,417.35 513.44,426.95 505.44,426.95" fill="#000"/><polygon points="509.44,420.45 511.64,425.35 507.24,425.35" fill="#fff"/>
<rect x="344.88" y="416.12" width="7.4" height="9.3" fill="#fff" stroke="#000" stroke-width="2"/>
<rect x="367.86" y="415.75" width="7.4" height="9.3" fill="#fff" stroke="#000" stroke-width="2"/>
<rect x="390.84" y="415.37" width="7.4" height="9.3" fill="#fff" stroke="#000" stroke-width="2"/>
<rect x="413.82" y="415.37" width="7.4" height="9.3" fill="#fff" stroke="#000" stroke-width="2"/>
<rect x="436.80" y="416.86" width="7.4" height="9.3" fill="#fff" stroke="#000" stroke-width="2"/>
<rect x="459.78" y="416.86" width="7.4" height="9.3" fill="#fff" stroke="#000" stroke-width="2"/>
<rect x="482.76" y="416.86" width="7.4" height="9.3" fill="#fff" stroke="#000" stroke-width="2"/>
<rect x="505.74" y="416.12" width="7.4" height="9.3" fill="#fff" stroke="#000" stroke-width="2"/>
<polygon points="348.58,421.72 353.08,427.22 348.58,432.72 344.08,427.22" fill="#000"/>
<polygon points="371.56,420.97 376.06,426.47 371.56,431.97 367.06,426.47" fill="#000"/>
<polygon points="394.54,420.97 399.04,426.47 394.54,431.97 390.04,426.47" fill="#000"/>
<polygon points="417.52,420.72 422.02,426.22 417.52,431.72 413.02,426.22" fill="#000"/>
<polygon points="440.50,420.10 445.00,425.60 440.50,431.10 436.00,425.60" fill="#000"/>
<polygon points="463.48,420.10 467.98,425.60 463.48,431.10 458.98,425.60" fill="#000"/>
<polygon points="486.46,419.98 490.96,425.48 486.46,430.98 481.96,425.48" fill="#000"/>
<polygon points="509.44,419.48 513.94,424.98 509.44,430.48 504.94,424.98" fill="#000"/>
<path d="M57.3,38.6 H94.6" stroke="#000" stroke-width="2.0"/>
<ellipse cx="76.50" cy="38.60" rx="2.85" ry="4.0" fill="#fff" stroke="#000" stroke-width="1.65"/>
<text x="97.7" y="41.3" font-size="11" font-weight="bold">donor 1</text>
<path d="M57.3,51.8 H94.6" stroke="#000" stroke-width="2.0"/>
<polygon points="75.85,46.40 79.85,56.00 71.85,56.00" fill="#000"/><polygon points="75.85,49.50 78.05,54.40 73.65,54.40" fill="#fff"/>
<text x="97.7" y="54.2" font-size="11" font-weight="bold">donor 2</text>
<path d="M153.1,39.1 H191.2" stroke="#000" stroke-width="2.0"/>
<rect x="169.60" y="34.45" width="7.4" height="9.3" fill="#fff" stroke="#000" stroke-width="2"/>
<text x="195.4" y="41.3" font-size="11" font-weight="bold">donor 3</text>
<path d="M153.1,52.7 H191.2" stroke="#000" stroke-width="2.0"/>
<polygon points="172.70,47.20 177.20,52.70 172.70,58.20 168.20,52.70" fill="#000"/>
<text x="195.4" y="55.4" font-size="11" font-weight="bold">donor 4</text>
</svg>
</body></html>
